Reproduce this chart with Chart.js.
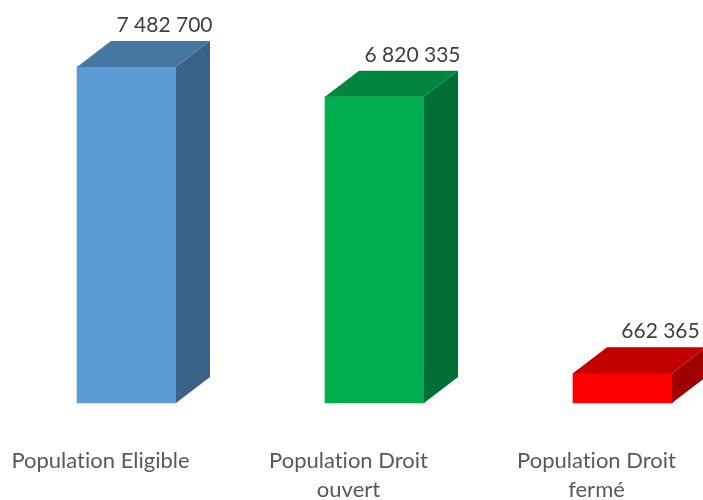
<!DOCTYPE html>
<html><head><meta charset="utf-8">
<style>html,body{margin:0;padding:0;background:#fff;overflow:hidden}canvas{display:block}</style>
<script src="https://cdn.jsdelivr.net/npm/chart.js@4"></script></head>
<body><div style="width:703px;height:500px"><canvas id="c"></canvas></div>
<script>
const categories = [["Population Eligible"], ["Population Droit", "ouvert"], ["Population Droit", "fermé"]];
const values = [7482700, 6820335, 662365];
const valueLabels = ["7 482 700", "6 820 335", "662 365"];
const frontColors = ["#5B9BD5", "#00B050", "#FF0000"];
const topColors = ["#4676A2", "#008640", "#C20000"];
const sideColors = ["#3A6288", "#006F35", "#A00000"];
const fontFamily = 'Lato, sans-serif';

const bars3d = {
  id: "bars3d",
  beforeDraw(chart) { chart.ctx.textRendering = "optimizeSpeed"; },
  afterDatasetsDraw(chart) {
    const ctx = chart.ctx, dx = 34, dy = 26;
    chart.getDatasetMeta(0).data.forEach((bar, i) => {
      const l = bar.x - bar.width / 2, r = bar.x + bar.width / 2, t = bar.y, b = bar.base;
      ctx.save();
      ctx.fillStyle = topColors[i];
      ctx.beginPath();
      ctx.moveTo(l, t); ctx.lineTo(l + dx, t - dy); ctx.lineTo(r + dx, t - dy); ctx.lineTo(r, t);
      ctx.closePath(); ctx.fill();
      ctx.fillStyle = sideColors[i];
      ctx.beginPath();
      ctx.moveTo(r, t); ctx.lineTo(r + dx, t - dy); ctx.lineTo(r + dx, b - dy); ctx.lineTo(r, b);
      ctx.closePath(); ctx.fill();
      ctx.fillStyle = "#404040";
      ctx.font = "21px " + fontFamily;
      ctx.textAlign = "center";
      ctx.textBaseline = "middle";
      ctx.fillText(valueLabels[i], bar.x + 38, t - 42);
      ctx.restore();
    });
  }
};

new Chart(document.getElementById("c"), {
  type: "bar",
  data: { labels: categories, datasets: [{ data: values, backgroundColor: frontColors, borderWidth: 0, barThickness: 99, clip: false }] },
  options: {
    responsive: true, maintainAspectRatio: false, animation: false,
    layout: { padding: { left: 126.5, right: 80.5, top: 0, bottom: 0 } },
    plugins: { legend: { display: false }, tooltip: { enabled: false } },
    scales: {
      x: {
        offset: false,
        grid: { display: false }, border: { display: false },
        afterFit(s) { s.height = 97; s.paddingLeft = 0; s.paddingRight = 0; },
        ticks: { autoSkip: false, maxRotation: 0, padding: 35, labelOffset: -26, color: "#595959", font: { family: fontFamily, size: 22, lineHeight: 1.32 } }
      },
      y: { display: false, min: 0, max: 8975000 }
    }
  },
  plugins: [bars3d]
});
</script></body></html>
